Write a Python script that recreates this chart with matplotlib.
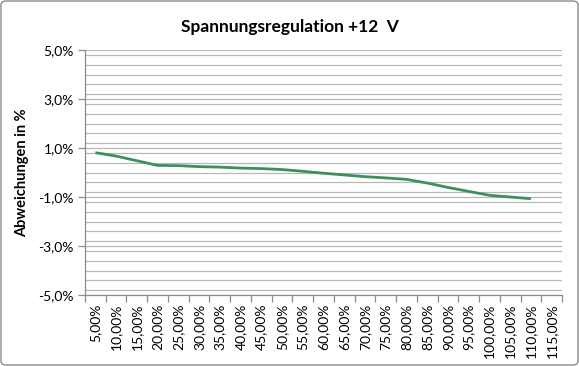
import matplotlib
matplotlib.use("Agg")
import matplotlib.pyplot as plt
from matplotlib.ticker import FixedLocator, MultipleLocator, FuncFormatter
from matplotlib.patches import FancyBboxPatch

categories = ["5,00%", "10,00%", "15,00%", "20,00%", "25,00%", "30,00%", "35,00%",
              "40,00%", "45,00%", "50,00%", "55,00%", "60,00%", "65,00%", "70,00%",
              "75,00%", "80,00%", "85,00%", "90,00%", "95,00%", "100,00%", "105,00%",
              "110,00%", "115,00%"]
deviation = [0.81, 0.67, 0.48, 0.29, 0.28, 0.24, 0.22, 0.18, 0.16, 0.12, 0.05,
             -0.03, -0.10, -0.17, -0.22, -0.28, -0.43, -0.61, -0.77, -0.93, -1.00, -1.07]
y_ticks = [-5, -3, -1, 1, 3, 5]

plt.rcParams['font.family'] = ['Lato', 'DejaVu Sans']

fig = plt.figure(figsize=(5.79, 3.66), dpi=100)
ax = fig.add_axes([85/579, 1-295/366, (562-85)/579, (295-50)/366])

n = len(categories)
xs = list(range(len(deviation)))
ax.plot(xs, deviation, color="#3d8f5e", lw=2.0, solid_capstyle='butt')

ax.set_xlim(-0.5, n-0.5)
ax.set_ylim(-5, 5)
ax.yaxis.set_major_locator(FixedLocator(y_ticks))
ax.yaxis.set_minor_locator(MultipleLocator(0.4))
ax.yaxis.set_major_formatter(FuncFormatter(lambda v, p: f"{v:.1f}%".replace(".", ",")))
ax.grid(True, which='both', axis='y', color="#b8b8b8", lw=0.9)
ax.set_axisbelow(True)

ax.set_xticks(range(n))
ax.set_xticklabels(categories, rotation=90, fontsize=10)
ax.set_xticks([i-0.5 for i in range(n+1)], minor=True)
ax.tick_params(axis='x', which='major', length=0, pad=6)
ax.tick_params(axis='x', which='minor', length=5, color="#8c8c8c", width=0.9)
ax.tick_params(axis='y', which='major', length=5, color="#8c8c8c", width=0.9, labelsize=10, pad=3)
ax.tick_params(axis='y', which='minor', length=0)

for s in ['top', 'right']:
    ax.spines[s].set_visible(False)
for s in ['left', 'bottom']:
    ax.spines[s].set_color("#8c8c8c")
    ax.spines[s].set_linewidth(0.9)

ax.set_ylabel("Abweichungen in %", fontsize=10.5, fontweight='bold')
ax.yaxis.set_label_coords(-(85-29)/477, 0.5)
fig.text(0.5, 1-27/366, "Spannungsregulation +12  V", ha='center', va='center',
         fontsize=12.5, fontweight='bold')

border = FancyBboxPatch((1/579, 1/366), 577/579, 364/366, boxstyle="round,pad=0,rounding_size=0.01",
                        transform=fig.transFigure, fill=False, ec="#8c8c8c", lw=1.0)
fig.patches.append(border)

fig.savefig("out.png", dpi=100)
